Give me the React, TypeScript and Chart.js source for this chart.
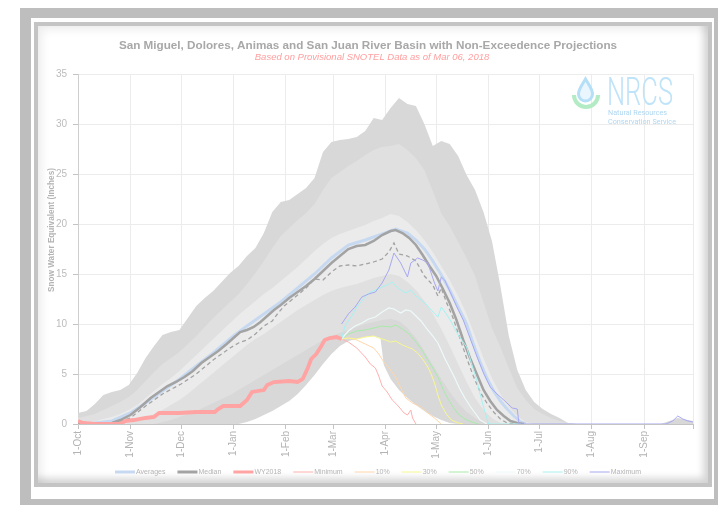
import React, { useEffect, useRef } from "react";
import { Chart, registerables } from "chart.js";

Chart.register(...registerables);

// ---------- text ----------
const TITLE = "San Miguel, Dolores, Animas and San Juan River Basin with Non-Exceedence Projections";
const SUBTITLE = "Based on Provisional SNOTEL Data as of Mar 06, 2018";
const Y_TITLE = "Snow Water Equivalent (Inches)";

// ---------- x axis (days since 1-Oct) ----------
const monthTickDays = [0, 31, 61, 92, 123, 151, 182, 212, 243, 273, 304, 335];
const monthTickLabels = ["1-Oct", "1-Nov", "1-Dec", "1-Jan", "1-Feb", "1-Mar", "1-Apr", "1-May", "1-Jun", "1-Jul", "1-Aug", "1-Sep"];
const yTicks = [0, 5, 10, 15, 20, 25, 30, 35];

// ---------- historical percentile envelopes ----------
const bandDays = [0, 5, 10, 15, 20, 25, 30, 35, 40, 45, 50, 55, 60, 65, 70, 75, 80, 85, 90, 95, 100, 105, 110, 115, 120, 125, 130, 135, 140, 145, 150, 155, 160, 165, 170, 175, 180, 185, 190, 195, 200, 205, 210, 215, 220, 225, 230, 235, 240, 245, 250, 255, 260, 265, 270, 275, 280, 285, 290, 295, 345, 355, 364];
const bandMax = [1.1, 1.3, 2.0, 2.9, 3.2, 3.4, 3.9, 5.1, 6.6, 7.8, 8.9, 9.2, 9.4, 10.6, 11.8, 12.6, 13.3, 14.2, 15.1, 15.8, 16.8, 17.6, 19.1, 21.2, 22.2, 22.4, 23.0, 23.6, 24.6, 27.2, 28.2, 28.4, 28.5, 28.7, 29.3, 30.6, 30.4, 31.6, 32.6, 32.0, 31.8, 30.0, 27.8, 28.3, 28.0, 26.8, 24.9, 23.4, 21.2, 18.3, 13.8, 8.8, 5.4, 3.4, 2.2, 1.5, 1.0, 0.6, 0.1, 0, 0, 0.6, 0.3];
const bandP90 = [0.6, 0.8, 1.0, 1.4, 1.8, 2.2, 2.7, 3.4, 4.3, 5.2, 6.0, 6.6, 7.2, 8.0, 8.8, 9.7, 10.6, 11.4, 12.2, 13.0, 14.0, 15.1, 16.3, 17.6, 18.8, 19.6, 20.4, 21.1, 22.0, 23.4, 24.6, 25.2, 25.8, 26.3, 26.9, 27.4, 27.7, 27.8, 28.0, 27.4, 26.6, 25.4, 23.3, 21.1, 19.8, 18.2, 16.6, 14.8, 12.2, 9.6, 7.7, 5.6, 3.6, 2.4, 1.5, 1.0, 0.6, 0.3, 0.1, 0, 0, 0, 0];
const bandP70 = [0.1, 0.2, 0.3, 0.5, 0.7, 1.0, 1.4, 1.9, 2.6, 3.3, 4.0, 4.6, 5.3, 6.1, 6.9, 7.7, 8.5, 9.3, 10.1, 10.9, 11.6, 12.3, 13.0, 13.6, 14.3, 15.0, 15.7, 16.5, 17.3, 18.0, 18.6, 19.0, 19.3, 19.6, 19.9, 20.3, 20.6, 21.0, 20.8, 20.2, 19.4, 18.4, 17.2, 15.8, 14.4, 12.8, 11.0, 8.8, 6.6, 4.6, 3.0, 1.7, 0.8, 0.2, 0, 0, 0, 0, 0, 0, 0, 0, 0];
const bandP30 = [0, 0, 0, 0, 0, 0, 0.1, 0.3, 0.6, 1.0, 1.4, 1.9, 2.4, 3.0, 3.7, 4.4, 5.1, 5.8, 6.5, 7.2, 7.9, 8.5, 9.0, 9.6, 10.2, 10.8, 11.4, 11.9, 12.4, 12.9, 13.3, 13.6, 13.8, 14.0, 14.3, 14.6, 14.8, 15.0, 14.8, 14.2, 13.4, 12.3, 11.0, 9.5, 7.8, 6.0, 4.2, 2.6, 1.4, 0.6, 0.1, 0, 0, 0, 0, 0, 0, 0, 0, 0, 0, 0, 0];
const bandP10 = [0, 0, 0, 0, 0, 0, 0, 0, 0, 0, 0.2, 0.4, 0.7, 1.0, 1.3, 1.7, 2.1, 2.5, 2.9, 3.4, 3.9, 4.4, 4.9, 5.4, 5.9, 6.4, 6.9, 7.4, 7.9, 8.4, 8.8, 9.1, 9.4, 9.7, 10.0, 10.2, 10.4, 10.5, 10.3, 9.6, 8.6, 7.3, 5.9, 4.5, 3.2, 2.1, 1.2, 0.6, 0.2, 0, 0, 0, 0, 0, 0, 0, 0, 0, 0, 0, 0, 0, 0];
const minEnvDays = [0, 95, 100, 105, 110, 115, 120, 125, 130, 135, 140, 145, 150, 155, 160, 165, 170, 175, 179, 181, 185, 190, 195, 200, 205, 210, 215, 220, 225, 364];
const minEnvVals = [0, 0, 0.2, 0.5, 0.9, 1.3, 1.8, 2.3, 3.0, 3.9, 4.9, 6.0, 7.0, 7.8, 8.3, 8.5, 8.7, 8.8, 8.6, 5.9, 4.5, 3.4, 2.6, 1.9, 1.3, 0.8, 0.4, 0.1, 0, 0];

// ---------- lines ----------
const avgDays = [0, 10, 20, 31, 40, 50, 61, 70, 80, 92, 100, 110, 120, 130, 140, 150, 160, 170, 180, 188, 195, 200, 205, 210, 215, 220, 225, 230, 234, 238, 242, 246, 250, 254, 258, 262, 265];
const avgVals = [0, 0.1, 0.3, 1.1, 2.1, 3.3, 4.6, 5.8, 7.1, 8.8, 9.8, 11.0, 12.2, 13.6, 15.0, 16.6, 17.9, 18.4, 19.0, 19.5, 19.1, 18.4, 17.5, 16.3, 14.9, 13.4, 11.7, 10.0, 8.0, 6.2, 4.6, 3.3, 2.3, 1.5, 0.8, 0.2, 0];
const medDays = [0, 15, 20, 25, 31, 37, 43, 48, 53, 58, 63, 68, 73, 78, 83, 88, 92, 96, 100, 104, 108, 112, 116, 120, 125, 130, 135, 140, 145, 150, 155, 160, 165, 170, 175, 180, 185, 188, 192, 196, 200, 204, 208, 212, 216, 220, 224, 228, 232, 236, 240, 244, 248, 252, 256, 260, 264];
const medVals = [0, 0, 0.1, 0.4, 0.9, 1.7, 2.6, 3.2, 3.8, 4.2, 4.7, 5.3, 6.1, 6.7, 7.3, 8.0, 8.6, 9.2, 9.4, 9.7, 10.2, 10.8, 11.4, 11.9, 12.6, 13.2, 13.8, 14.5, 15.3, 16.1, 16.8, 17.5, 17.8, 17.9, 18.3, 18.9, 19.3, 19.4, 19.1, 18.6, 17.9, 16.9, 15.8, 14.8, 13.5, 12.1, 10.4, 8.4, 6.6, 5.0, 3.4, 2.3, 1.4, 0.8, 0.3, 0.1, 0];
const dashDays = [0, 20, 31, 40, 50, 61, 70, 80, 90, 95, 100, 105, 110, 115, 118, 122, 130, 135, 140, 145, 150, 155, 160, 165, 170, 175, 180, 184, 187, 190, 195, 200, 205, 210, 213, 215, 218, 222, 226, 230, 234, 238, 242, 246, 250, 254, 258];
const dashVals = [0, 0, 0.6, 1.8, 3.0, 4.0, 5.0, 6.4, 7.6, 8.1, 8.4, 9.0, 9.8, 10.3, 11.0, 11.8, 12.9, 13.6, 14.5, 14.4, 15.2, 15.8, 15.9, 15.8, 16.0, 16.2, 16.5, 17.2, 18.1, 17.0, 16.8, 16.3, 14.8, 13.9, 12.8, 13.6, 12.2, 10.6, 8.6, 6.6, 4.8, 3.2, 2.1, 1.2, 0.5, 0.1, 0];
const wyDays = [0, 3, 10, 25, 28, 33, 40, 45, 48, 60, 70, 81, 83, 86, 96, 100, 103, 110, 112, 116, 125, 130, 133, 136, 138, 141, 144, 146, 149, 153, 156];
const wyVals = [0.3, 0.1, 0, 0, 0.3, 0.4, 0.6, 0.7, 1.1, 1.1, 1.2, 1.2, 1.5, 1.8, 1.8, 2.4, 3.2, 3.4, 3.9, 4.2, 4.3, 4.2, 4.5, 5.6, 6.5, 7.0, 7.8, 8.4, 8.6, 8.7, 8.5];

// ---------- non-exceedance projections from 6-Mar ----------
const projMinDays = [156, 160, 165, 170, 173, 176, 178, 180, 183, 186, 189, 193, 195, 197, 198, 200];
const projMinVals = [8.5, 8.2, 7.6, 6.7, 6.0, 5.6, 4.8, 3.8, 3.2, 2.4, 1.9, 1.1, 0.9, 1.4, 0.6, 0];
const proj10Days = [156, 160, 165, 170, 175, 178, 181, 185, 188, 191, 194, 198, 203, 207, 211, 215];
const proj10Vals = [8.5, 8.6, 8.4, 8.0, 7.6, 7.0, 6.2, 5.4, 4.7, 3.6, 2.6, 2.1, 1.7, 1.1, 0.6, 0];
const proj30Days = [156, 160, 165, 170, 175, 178, 182, 185, 188, 192, 195, 198, 201, 204, 207, 209, 211, 213, 215, 218, 221, 225, 228];
const proj30Vals = [8.5, 8.6, 8.5, 8.7, 8.8, 8.6, 8.4, 8.2, 8.3, 7.9, 7.7, 7.5, 7.1, 6.5, 5.7, 5.0, 4.1, 2.9, 1.9, 1.0, 0.4, 0.1, 0];
const proj50Days = [156, 160, 165, 170, 175, 180, 185, 188, 192, 196, 200, 204, 207, 210, 213, 216, 219, 222, 225, 229, 233, 237];
const proj50Vals = [8.5, 9.0, 9.3, 9.4, 9.6, 9.8, 9.7, 9.9, 9.5, 9.0, 8.2, 7.3, 6.4, 5.6, 4.7, 3.5, 2.5, 1.7, 1.0, 0.5, 0.2, 0];
const proj70Days = [156, 160, 164, 168, 172, 176, 180, 184, 187, 191, 194, 197, 200, 203, 207, 210, 213, 217, 220, 223, 226, 229, 232, 235, 238, 242];
const proj70Vals = [8.5, 9.3, 9.8, 10.1, 10.5, 10.7, 11.2, 11.6, 11.5, 11.1, 11.4, 11.3, 10.8, 10.3, 9.4, 8.8, 8.1, 6.6, 5.6, 4.6, 3.5, 2.6, 1.8, 1.1, 0.4, 0];
const proj90Days = [156, 158, 162, 165, 168, 172, 176, 180, 183, 186, 188, 191, 194, 197, 200, 203, 206, 209, 212, 213, 215, 218, 221, 225, 230, 233, 236, 238, 240, 242, 243, 262];
const proj90Vals = [8.5, 9.8, 10.8, 11.7, 12.3, 13.1, 13.4, 13.7, 13.9, 14.2, 13.8, 13.4, 13.1, 13.4, 12.8, 12.4, 12.0, 11.4, 10.9, 10.7, 11.7, 11.0, 10.2, 8.9, 7.7, 6.0, 4.4, 3.0, 1.7, 0.6, 0, 0];
const projMaxDays = [156, 160, 164, 168, 172, 176, 180, 184, 187, 191, 195, 197, 201, 204, 207, 211, 213, 215, 217, 220, 224, 228, 232, 236, 240, 244, 248, 252, 257, 260, 261, 348, 352, 355, 358, 361, 364];
const projMaxVals = [10.0, 11.0, 11.7, 12.7, 13.0, 13.2, 14.1, 15.4, 17.1, 16.1, 14.7, 16.1, 16.6, 16.4, 16.1, 14.1, 13.3, 14.7, 14.4, 13.3, 11.8, 10.4, 8.6, 6.8, 5.1, 3.7, 3.0, 2.4, 1.6, 1.5, 0, 0, 0.3, 0.8, 0.5, 0.3, 0.2];

const FONT = '"Liberation Sans", Arial, sans-serif';

function pts(days: number[], vals: number[]) {
  return days.map((d, i) => ({ x: d, y: vals[i] }));
}

function band(label: string, days: number[], vals: number[], color: string, order: number) {
  return {
    label,
    data: pts(days, vals),
    fill: "origin",
    backgroundColor: color,
    borderColor: "rgba(0,0,0,0)",
    borderWidth: 0,
    pointRadius: 0,
    order,
    inLegend: false,
  };
}

function line(label: string, days: number[], vals: number[], color: string, width: number, order: number, inLegend = true, dash: number[] = []) {
  return {
    label,
    data: pts(days, vals),
    fill: false,
    borderColor: color,
    backgroundColor: color,
    borderWidth: width,
    borderDash: dash,
    pointRadius: 0,
    order,
    inLegend,
    legendWidth: width > 2 ? 3 : 1,
  };
}

const legendOrder = ["Averages", "Median", "WY2018", "Minimum", "10%", "30%", "50%", "70%", "90%", "Maximum"];

const decorPlugin = {
  id: "decor",
  afterDraw(chart: any) {
    const ctx = chart.ctx as CanvasRenderingContext2D;
    ctx.save();
    ctx.textAlign = "center";
    ctx.textBaseline = "middle";
    ctx.fillStyle = "#a8a8a8";
    ctx.font = `bold 11.7px ${FONT}`;
    ctx.fillText(TITLE, 330, 20);
    ctx.fillStyle = "#ffa0a0";
    ctx.font = `italic 9.5px ${FONT}`;
    ctx.fillText(SUBTITLE, 334, 31);

    ctx.save();
    ctx.translate(13.5, 204);
    ctx.rotate(-Math.PI / 2);
    ctx.fillStyle = "#b4b4b4";
    ctx.font = `bold 8.2px ${FONT}`;
    ctx.fillText(Y_TITLE, 0, 0);
    ctx.restore();

    // legend
    ctx.font = `7px ${FONT}`;
    ctx.textAlign = "left";
    const ds = chart.data.datasets as any[];
    let x = 115 - 38;
    const y = 472 - 26;
    for (const name of legendOrder) {
      const d = ds.find((e) => e.label === name);
      if (!d) continue;
      ctx.strokeStyle = d.borderColor;
      ctx.lineWidth = d.legendWidth;
      ctx.setLineDash([]);
      ctx.beginPath();
      ctx.moveTo(x, y);
      ctx.lineTo(x + 20, y);
      ctx.stroke();
      x += 21;
      ctx.fillStyle = "#b4b4b4";
      ctx.fillText(name, x, y);
      x += ctx.measureText(name).width + 12;
    }
    ctx.restore();
  },
};

export default function App() {
  const ref = useRef<HTMLCanvasElement>(null);

  useEffect(() => {
    if (!ref.current) return;
    const datasets: any[] = [
      band("Max envelope", bandDays, bandMax, "#d8d8d8", 30),
      band("90th envelope", bandDays, bandP90, "#e0e0e0", 29),
      band("70th envelope", bandDays, bandP70, "#ebebeb", 28),
      band("30th envelope", bandDays, bandP30, "#e0e0e0", 27),
      band("10th envelope", bandDays, bandP10, "#d8d8d8", 26),
      band("Min envelope", minEnvDays, minEnvVals, "#ffffff", 25),
      line("Median (dashed)", dashDays, dashVals, "#a3a3a3", 1.3, 14, false, [4, 3]),
      line("Averages", avgDays, avgVals, "#c6d9f1", 3, 13),
      line("Median", medDays, medVals, "#a3a3a3", 2.5, 12),
      line("Minimum", projMinDays, projMinVals, "#ffb0b0", 1, 8),
      line("10%", proj10Days, proj10Vals, "#ffd6ac", 1, 7),
      line("30%", proj30Days, proj30Vals, "#f8f890", 1, 6),
      line("50%", proj50Days, proj50Vals, "#a8eca8", 1, 5),
      line("70%", proj70Days, proj70Vals, "#eefafa", 1.2, 4),
      line("90%", proj90Days, proj90Vals, "#a6f2f2", 1, 3),
      line("Maximum", projMaxDays, projMaxVals, "#a8a8f4", 1, 2),
      line("WY2018", wyDays, wyVals, "#ffa3a3", 3.8, 1),
    ];

    const chart = new Chart(ref.current, {
      type: "line",
      data: { datasets },
      options: {
        animation: false,
        responsive: false,
        devicePixelRatio: 1,
        events: [],
        layout: { padding: { left: 0, right: 4, top: 48, bottom: 0 } },
        elements: { line: { tension: 0 }, point: { radius: 0 } },
        plugins: {
          legend: { display: false },
          title: { display: false },
          tooltip: { enabled: false },
        },
        scales: {
          x: {
            type: "linear",
            min: 0,
            max: 364,
            afterBuildTicks: (s: any) => {
              s.ticks = [...monthTickDays, 364].map((v) => ({ value: v }));
            },
            afterFit: (s: any) => {
              s.height = 58;
            },
            ticks: {
              autoSkip: false,
              minRotation: 90,
              maxRotation: 90,
              padding: 2,
              color: "#b4b4b4",
              font: { family: FONT, size: 10 },
              callback: (v: any) => {
                const i = monthTickDays.indexOf(Number(v));
                return i >= 0 ? monthTickLabels[i] : "";
              },
            },
            grid: { color: "#ececec", tickColor: "#c4c4c4", tickLength: 5, lineWidth: 1 },
            border: { color: "#c4c4c4", width: 1 },
          },
          y: {
            type: "linear",
            min: 0,
            max: 35,
            afterBuildTicks: (s: any) => {
              s.ticks = yTicks.map((v) => ({ value: v }));
            },
            afterFit: (s: any) => {
              s.width = 40;
            },
            ticks: {
              padding: 6,
              color: "#bcbcbc",
              font: { family: FONT, size: 10 },
            },
            grid: { color: "#ececec", tickColor: "#c4c4c4", tickLength: 5, lineWidth: 1 },
            border: { color: "#cfcfcf", width: 1 },
          },
        },
      },
      plugins: [decorPlugin],
    } as any);
    return () => chart.destroy();
  }, []);

  return (
    <div style={{ position: "fixed", left: 0, top: 0, width: 718, height: 505, overflow: "hidden", background: "#ffffff" }}>
      <div style={{ position: "absolute", left: 20, top: 8, width: 698, height: 497, background: "#bebebe" }} />
      <div style={{ position: "absolute", left: 31, top: 18, width: 683, height: 481, background: "#ffffff" }} />
      <div
        style={{
          position: "absolute",
          left: 34,
          top: 22,
          width: 678,
          height: 465,
          boxSizing: "border-box",
          border: "4px solid #c4c4c4",
        }}
      />
      <div
        style={{
          position: "absolute",
          left: 38,
          top: 26,
          width: 670,
          height: 457,
          background: "#ffffff",
          boxShadow: "inset -5px -5px 7px rgba(0,0,0,0.16), inset 4px 4px 8px rgba(0,0,0,0.07)",
        }}
      />
      <canvas ref={ref} width={669} height={456} style={{ position: "absolute", left: 38, top: 26, width: 669, height: 456 }} />
      <svg width={130} height={60} style={{ position: "absolute", left: 565, top: 74 }} viewBox="565 74 130 60">
        <path d="M574,95 A12,12 0 0 0 598,95" fill="none" stroke="#b2ebc4" strokeWidth={4} />
        <path d="M585.5,79 C582,85 578.5,89 578.5,94 A7,7 0 0 0 592.5,94 C592.5,89 589,85 585.5,79 Z" fill="#eaf6fd" stroke="#b5def7" strokeWidth={3} />
        <text x={607} y={105} fontFamily="Roboto, 'Liberation Sans', sans-serif" fontWeight={300} fontSize={38} fill="#bfe3f8" textLength={66} lengthAdjust="spacingAndGlyphs">
          NRCS
        </text>
        <text x={608} y={114.5} fontFamily="Roboto, 'Liberation Sans', sans-serif" fontSize={8} fill="#aed7f2" textLength={59} lengthAdjust="spacingAndGlyphs">
          Natural Resources
        </text>
        <text x={608} y={124} fontFamily="Roboto, 'Liberation Sans', sans-serif" fontSize={8} fill="#aed7f2" textLength={68} lengthAdjust="spacingAndGlyphs">
          Conservation Service
        </text>
      </svg>
    </div>
  );
}
